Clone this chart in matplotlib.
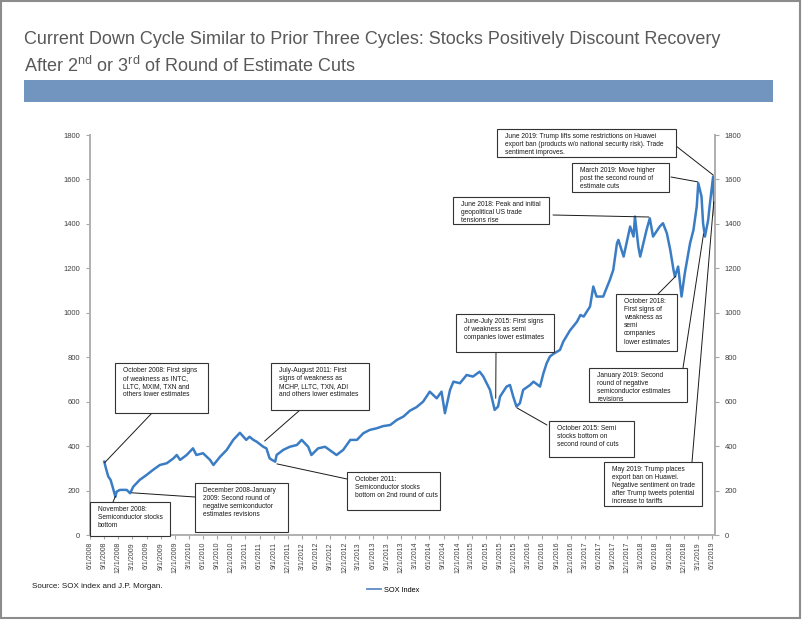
import matplotlib
matplotlib.use("Agg")
import matplotlib.pyplot as plt
import matplotlib.dates as mdates
from matplotlib.patches import Rectangle
from matplotlib.lines import Line2D
import pandas as pd

# SOX index
sox_dates = ["2008-09-01", "2008-09-12", "2008-09-27", "2008-10-12", "2008-10-25", "2008-11-12",
             "2008-11-20", "2008-12-11", "2009-01-03", "2009-01-24", "2009-02-15", "2009-03-07",
             "2009-04-18", "2009-06-01", "2009-07-13", "2009-08-26", "2009-10-10", "2009-11-22",
             "2009-12-13", "2010-01-04", "2010-02-15", "2010-03-28", "2010-04-19", "2010-06-01",
             "2010-07-16", "2010-08-07", "2010-09-19", "2010-11-01", "2010-12-13", "2011-01-25",
             "2011-03-07", "2011-03-28", "2011-04-22", "2011-05-13", "2011-06-25", "2011-07-15",
             "2011-08-05", "2011-08-20", "2011-09-10", "2011-09-19", "2011-11-01", "2011-12-13",
             "2012-01-28", "2012-02-28", "2012-04-10", "2012-05-01", "2012-06-13", "2012-07-28",
             "2012-09-10", "2012-10-10", "2012-11-22", "2013-01-07", "2013-02-19", "2013-04-01",
             "2013-05-13", "2013-06-25", "2013-08-07", "2013-09-22", "2013-11-04", "2013-12-16",
             "2014-01-28", "2014-03-10", "2014-04-22", "2014-06-04", "2014-07-19", "2014-08-19",
             "2014-09-10", "2014-10-13", "2014-11-04", "2014-12-16", "2015-01-28", "2015-03-10",
             "2015-04-22", "2015-05-16", "2015-06-28", "2015-07-28", "2015-08-19", "2015-09-01",
             "2015-10-13", "2015-11-04", "2015-11-25", "2015-12-16", "2016-01-07", "2016-01-28",
             "2016-03-13", "2016-04-04", "2016-05-16", "2016-06-07", "2016-06-28", "2016-07-19",
             "2016-08-10", "2016-09-22", "2016-10-13", "2016-11-25", "2016-12-16", "2017-01-10",
             "2017-02-01", "2017-02-22", "2017-04-04", "2017-04-25", "2017-05-16", "2017-06-28",
             "2017-08-10", "2017-09-01", "2017-09-25", "2017-10-04", "2017-11-07", "2017-12-19",
             "2018-01-10", "2018-01-19", "2018-02-10", "2018-02-22", "2018-04-04", "2018-04-25",
             "2018-05-16", "2018-06-28", "2018-07-19", "2018-08-13", "2018-09-04", "2018-09-25",
             "2018-10-04", "2018-10-25", "2018-11-16", "2018-12-07", "2019-01-10", "2019-02-01",
             "2019-02-22", "2019-03-04", "2019-03-25", "2019-04-04", "2019-04-16", "2019-05-07",
             "2019-05-16", "2019-06-08", "2019-06-14", "2019-06-19"]
sox_values = [330, 300, 263, 248, 217, 172,
              195, 203, 203, 203, 188, 217,
              248, 270, 293, 315, 323, 345,
              360, 338, 360, 390, 360, 368,
              338, 315, 352, 383, 428, 460,
              428, 442, 428, 420, 397, 390,
              345, 338, 330, 360, 383, 397,
              405, 428, 397, 360, 390, 397,
              375, 360, 383, 428, 428, 458,
              473, 480, 490, 495, 518, 533,
              560, 575, 600, 645, 615, 645,
              548, 653, 690, 683, 720, 713,
              735, 713, 653, 563, 578, 623,
              668, 675, 623, 578, 593, 653,
              675, 690, 668, 728, 773, 803,
              815, 833, 870, 920, 938, 960,
              990, 983, 1028, 1118, 1073, 1073,
              1148, 1193, 1313, 1328, 1253, 1388,
              1343, 1433, 1298, 1253, 1373, 1425,
              1343, 1388, 1403, 1358, 1283, 1193,
              1163, 1208, 1073, 1178, 1313, 1373,
              1478, 1583, 1523, 1403, 1343, 1418,
              1478, 1613, 1508, 1440]

# annotation boxes: pixel box (x0, y0, x1, y1), text, connector start on box, target point
notes = [
    ((115, 363, 208, 413), "October 2008: First signs\nof weakness as INTC,\nLLTC, MXIM, TXN and\nothers lower estimates",
     (152, 413), ("2008-09-03", 325)),
    ((90, 502, 170, 536), "November 2008:\nSemiconductor stocks\nbottom",
     (113, 502), ("2008-11-12", 174)),
    ((195, 483, 288, 532), "December 2008-January\n2009: Second round of\nnegative semiconductor\nestimates revisions",
     (195, 497), ("2009-02-25", 190)),
    ((271, 363, 369, 410), "July-August 2011: First\nsigns of weakness as\nMCHP, LLTC, TXN, ADI\nand others lower estimates",
     (300, 410), ("2011-07-04", 423)),
    ((347, 472, 440, 510), "October 2011:\nSemiconductor stocks\nbottom on 2nd round of cuts",
     (347, 479), ("2011-09-21", 320)),
    ((456, 314, 554, 352), "June-July 2015: First signs\nof weakness as semi\ncompanies lower estimates",
     (496, 352), ("2015-08-04", 615)),
    ((549, 421, 634, 457), "October 2015: Semi\nstocks bottom on\nsecond round of cuts",
     (547, 425), ("2015-12-19", 572)),
    ((453, 197, 549, 224), "June 2018: Peak and initial\ngeopolitical US trade\ntensions rise",
     (553, 215), ("2018-04-19", 1431)),
    ((572, 163, 669, 192), "March 2019: Move higher\npost the second round of\nestimate cuts",
     (671, 177), ("2019-03-01", 1589)),
    ((497, 129, 676, 157), "June 2019: Trump lifts some restrictions on Huawei\nexport ban (products w/o national security risk). Trade\nsentiment improves.",
     (676, 146), ("2019-06-08", 1620)),
    ((616, 294, 677, 351), "October 2018:\nFirst signs of\nweakness as\nsemi\ncompanies\nlower estimates",
     (658, 294), ("2018-10-10", 1165)),
    ((589, 368, 687, 402), "January 2019: Second\nround of negative\nsemiconductor estimates\nrevisions",
     (683, 368), ("2019-04-07", 1355)),
    ((604, 462, 702, 506), "May 2019: Trump places\nexport ban on Huawei.\nNegative sentiment on trade\nafter Trump tweets potential\nincrease to tariffs",
     (692, 462), ("2019-06-12", 1500)),
]

W, H = 802, 620
def fx(x):
    return x / W
def fy(y):
    return 1 - y / H

plt.rcParams['font.family'] = ['Liberation Sans', 'DejaVu Sans']
plt.rcParams['mathtext.fontset'] = 'custom'
plt.rcParams['mathtext.rm'] = 'Liberation Sans'

fig = plt.figure(figsize=(8.02, 6.2), dpi=100)
fig.patches.append(Rectangle((fx(1), fy(618)), fx(799), 617 / H, transform=fig.transFigure,
                             fill=False, edgecolor="#8c8c8c", lw=1.5))

fig.text(fx(24), fy(40), "Current Down Cycle Similar to Prior Three Cycles: Stocks Positively Discount Recovery",
         fontsize=13, color="#595959", va="center")
fig.text(fx(24), fy(66), r"After 2$^{\mathrm{nd}}$ or 3$^{\mathrm{rd}}$ of Round of Estimate Cuts",
         fontsize=13, color="#595959", va="center")
fig.patches.append(Rectangle((fx(24), fy(102)), fx(749), 22 / H, transform=fig.transFigure,
                             facecolor="#7295bf", edgecolor="none"))

ax = fig.add_axes([fx(90), fy(535), fx(625), 400 / H])
dates = pd.to_datetime(sox_dates)
line, = ax.plot(dates, sox_values, color="#3b7dc4", lw=1.8, label="SOX Index")

ax.set_ylim(0, 1800)
ax.set_yticks(range(0, 1801, 200))
ax.set_xlim(pd.Timestamp("2008-06-01"), pd.Timestamp("2019-06-20"))
xt = pd.date_range("2008-06-01", "2019-06-01", freq="3MS")
ax.set_xticks(xt)
ax.set_xticklabels([f"{d.month}/{d.day}/{d.year}" for d in xt], rotation=90, fontsize=5.0, color="#404040")
ax.tick_params(axis="y", labelsize=5.5, labelcolor="#404040", length=3, color="#a6a6a6", pad=4)
ax.tick_params(axis="x", length=3, color="#a6a6a6", pad=2)
ax.spines["top"].set_visible(False)
for s in ["left", "right", "bottom"]:
    ax.spines[s].set_color("#b0b0b0")
    ax.spines[s].set_linewidth(1.4)

ax2 = ax.twinx()
ax2.set_ylim(0, 1800)
ax2.set_yticks(range(0, 1801, 200))
ax2.tick_params(axis="y", labelsize=5.5, labelcolor="#404040", length=3, color="#a6a6a6", pad=4)
ax2.spines["top"].set_visible(False)
ax2.spines["right"].set_color("#b0b0b0")
ax2.spines["right"].set_linewidth(1.4)
ax2.spines["left"].set_visible(False)
ax2.spines["bottom"].set_visible(False)

for (x0, y0, x1, y1), txt, start, (d, v) in notes:
    ax2.annotate("", xy=(mdates.date2num(pd.Timestamp(d)), v), xycoords=ax.transData,
                 xytext=(fx(start[0]), fy(start[1])), textcoords="figure fraction",
                 arrowprops=dict(arrowstyle="-", color="#1a1a1a", lw=0.7, shrinkA=0, shrinkB=0),
                 annotation_clip=False)
    fig.patches.append(Rectangle((fx(x0), fy(y1)), (x1 - x0) / W, (y1 - y0) / H, transform=fig.transFigure,
                                 facecolor="white", edgecolor="#333333", lw=0.8, zorder=5))
    fig.text(fx(x0 + 8), fy(y0 + 4), txt, fontsize=4.8, va="top", ha="left", color="#1a1a1a",
             linespacing=1.22, zorder=6)

fig.text(fx(32), fy(586), "Source: SOX index and J.P. Morgan.", fontsize=5.8, color="#1a1a1a", va="center")
fig.legend(handles=[Line2D([], [], color="#5b8cc4", lw=1.3)], labels=["SOX Index"],
           loc="center left", bbox_to_anchor=(fx(360), fy(590)), frameon=False,
           fontsize=5.3, handlelength=2.0, handletextpad=0.3)

fig.savefig("out.png", dpi=100)
